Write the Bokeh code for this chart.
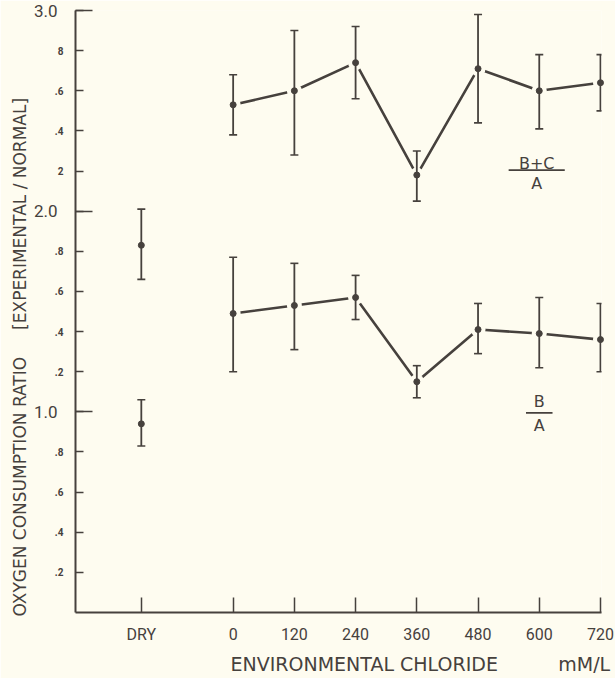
from bokeh.plotting import figure
from bokeh.models import (Range1d, FixedTicker, Whisker, ColumnDataSource, TeeHead,
                          LinearAxis, Title)
from bokeh.core.properties import value
from bokeh.embed import file_html
from bokeh.resources import INLINE

# ---------------- data ----------------
chloride = [0, 120, 240, 360, 480, 600, 720]
dry_x = -180

bc_mean = [2.53, 2.60, 2.74, 2.18, 2.71, 2.60, 2.64]
bc_upper = [2.68, 2.90, 2.92, 2.30, 2.98, 2.78, 2.78]
bc_lower = [2.38, 2.28, 2.56, 2.05, 2.44, 2.41, 2.50]

b_mean = [1.49, 1.53, 1.57, 1.15, 1.41, 1.39, 1.36]
b_upper = [1.77, 1.74, 1.68, 1.23, 1.54, 1.57, 1.54]
b_lower = [1.20, 1.31, 1.46, 1.07, 1.29, 1.22, 1.20]

dry_mean = [1.83, 0.94]
dry_upper = [2.01, 1.06]
dry_lower = [1.66, 0.83]

x_tick_values = [-180, 0, 120, 240, 360, 480, 600, 720]
x_tick_labels = ["DRY", "0", "120", "240", "360", "480", "600", "720"]

y_tick_values = [0.2, 0.4, 0.6, 0.8, 1.0, 1.2, 1.4, 1.6, 1.8, 2.0,
                 2.2, 2.4, 2.6, 2.8, 3.0]
y_tick_labels = [".2", ".4", ".6", ".8", "", ".2", ".4", ".6", ".8", "",
                 "2", ".4", ".6", "8", ""]
y_major_values = [1.0, 2.0, 3.0]
y_major_labels = ["1.0", "2.0", "3.0"]

y_title = "OXYGEN CONSUMPTION RATIO"
y_title_unit = "[EXPERIMENTAL / NORMAL]"
x_title = "ENVIRONMENTAL CHLORIDE"
x_title_unit = "mM/L"

# ---------------- style ----------------
BG = "#fefcf0"
INK = "#46413d"
FONT = "Roboto"
TFONT = "DejaVu Sans"
NB = "\u00a0"

p = figure(width=615, height=678, output_backend="svg", toolbar_location=None,
           x_range=Range1d(-309, 722), y_range=Range1d(0, 3.0),
           min_border_left=75, min_border_right=14, min_border_top=10,
           min_border_bottom=65)
p.background_fill_color = BG
p.border_fill_color = BG
p.outline_line_color = None
p.grid.visible = False

# x axis
xa = p.xaxis[0]
xa.ticker = FixedTicker(ticks=x_tick_values, minor_ticks=[])
xa.major_label_overrides = {v: t for v, t in zip(x_tick_values, x_tick_labels)}
xa.major_tick_in = 15
xa.major_tick_out = 0
xa.axis_line_color = INK
xa.axis_line_width = 2
xa.major_tick_line_color = INK
xa.major_tick_line_width = 1.5
xa.major_label_text_font = FONT
xa.major_label_text_font_size = "16px"
xa.major_label_text_color = INK
xa.major_label_standoff = 12

# y axis (inner: all ticks, small labels)
ya = p.yaxis[0]
ya.ticker = FixedTicker(ticks=y_tick_values, minor_ticks=y_major_values)
ya.major_label_overrides = {v: t for v, t in zip(y_tick_values, y_tick_labels)}
ya.major_tick_in = 8
ya.major_tick_out = 0
ya.minor_tick_in = 17
ya.minor_tick_out = 0
ya.axis_line_color = INK
ya.axis_line_width = 2
ya.major_tick_line_color = INK
ya.major_tick_line_width = 1.5
ya.minor_tick_line_color = INK
ya.minor_tick_line_width = 1.5
ya.major_label_text_font = FONT
ya.major_label_text_font_size = "10px"
ya.major_label_text_font_style = "bold"
ya.major_label_text_color = INK
ya.major_label_standoff = 12

# y axis (outer: large labels at whole numbers)
ya2 = LinearAxis(ticker=FixedTicker(ticks=y_major_values, minor_ticks=[]),
                 major_label_overrides={v: t for v, t in zip(y_major_values, y_major_labels)},
                 axis_line_color=None, major_tick_line_color=None,
                 minor_tick_line_color=None, major_tick_in=0, major_tick_out=0,
                 minor_tick_in=0, minor_tick_out=0, major_label_standoff=-6,
                 major_label_text_font=FONT, major_label_text_font_size="17px",
                 major_label_text_color=INK)
p.add_layout(ya2, "left")

# axis titles
p.add_layout(Title(text=y_title + NB * 5 + y_title_unit, align="left", offset=-4,
                   standoff=2, text_font=TFONT, text_font_size="17px",
                   text_font_style="normal", text_color=INK), "left")
p.add_layout(Title(text=x_title + NB * 10 + x_title_unit, align="left", offset=155,
                   standoff=8, text_font=TFONT, text_font_size="19px",
                   text_font_style="normal", text_color=INK), "below")

# ---------------- series ----------------
def series(xs, mean, upper, lower, connect):
    src = ColumnDataSource(dict(x=xs, y=mean, upper=upper, lower=lower))
    if connect:
        p.line("x", "y", source=src, line_color=INK, line_width=2.6)
        # gaps in the connecting line around each point
        p.scatter("x", "y", source=src, size=15, fill_color=BG, line_color=None)
    w = Whisker(source=src, base="x", upper="upper", lower="lower",
                line_color=INK, line_width=1.8, level="annotation",
                upper_head=TeeHead(size=8, line_color=INK, line_width=1.6),
                lower_head=TeeHead(size=8, line_color=INK, line_width=1.6))
    p.add_layout(w)
    r = p.scatter("x", "y", source=src, size=6, fill_color=INK, line_color=INK)
    r.level = "overlay"

series(chloride, bc_mean, bc_upper, bc_lower, True)
series(chloride, b_mean, b_upper, b_lower, True)
series([dry_x, dry_x], dry_mean, dry_upper, dry_lower, False)

# fraction labels
def fraction(xc, ytop, ybar, ybot, top, bottom, half):
    p.text(x=[xc], y=[ytop], text=[top], text_align="center", text_baseline="middle",
           text_font=value(TFONT), text_font_size="16px", text_color=INK)
    p.segment(x0=[xc - half], x1=[xc + half], y0=[ybar], y1=[ybar],
              line_color=INK, line_width=1.8)
    p.text(x=[xc], y=[ybot], text=[bottom], text_align="center", text_baseline="middle",
           text_font=value(TFONT), text_font_size="16px", text_color=INK)

fraction(595, 2.24, 2.205, 2.14, "B+C", "A", 55)
fraction(600, 1.05, 0.995, 0.93, "B", "A", 26)

open("out.html", "w").write(file_html(p, INLINE))
